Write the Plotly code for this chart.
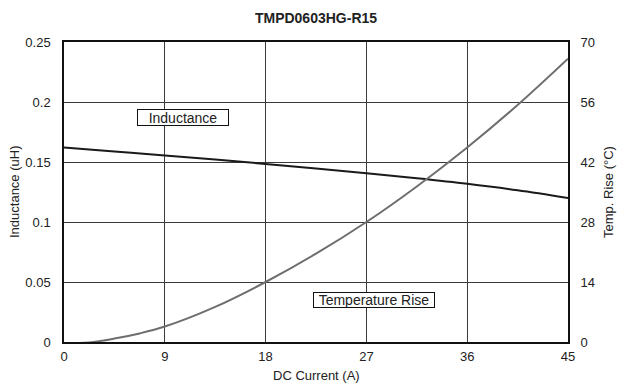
import plotly.graph_objects as go

# Data
current_ind = [0, 4.5, 9, 13.5, 18, 22.5, 27, 31.5, 36, 40.5, 45]
inductance = [0.162, 0.1587, 0.1554, 0.1520, 0.1484, 0.1446, 0.1406, 0.1364, 0.1318, 0.1264, 0.1200]

current_temp = [0, 2.25, 4.5, 6.75, 9, 13.5, 18, 22.5, 27, 31.5, 36, 40.5, 45]
temp_rise = [-0.3, -0.1, 0.8, 2.0, 3.6, 8.2, 14.0, 20.6, 28.0, 36.3, 45.4, 55.3, 66.1]

x_ticks = [0, 9, 18, 27, 36, 45]
y_ticks = [0, 0.05, 0.1, 0.15, 0.2, 0.25]
y_ticklabels = ["0", "0.05", "0.1", "0.15", "0.2", "0.25"]
y2_ticks = [0, 14, 28, 42, 56, 70]

FONT = "Liberation Sans, Arial, sans-serif"

fig = go.Figure()
fig.add_trace(go.Scatter(x=current_ind, y=inductance, mode="lines",
                         line=dict(color="#1a1a1a", width=2, shape="spline"),
                         name="Inductance", showlegend=False))
fig.add_trace(go.Scatter(x=current_temp, y=temp_rise, mode="lines",
                         line=dict(color="#6e6e6e", width=2, shape="spline"),
                         name="Temperature Rise", yaxis="y2", showlegend=False))

W, H = 619, 387
L, R, T, B = 64, 51, 42, 45
pw = W - L - R
ph = H - T - B

fig.update_layout(
    width=W, height=H,
    margin=dict(l=L, r=R, t=T, b=B, pad=0),
    paper_bgcolor="white", plot_bgcolor="white",
    font=dict(family=FONT, size=13, color="#222"),
    title=dict(text="<b>TMPD0603HG-R15</b>", x=(L + pw / 2) / W, xanchor="center",
               y=1 - 18 / H, yanchor="middle",
               font=dict(family=FONT, size=14, color="#222")),
    xaxis=dict(range=[0, 45], tickvals=x_ticks, showgrid=True, gridcolor="#3a3a3a",
               gridwidth=1, zeroline=False, showline=True, linecolor="#111",
               linewidth=1.5, mirror=True, ticks="outside", ticklen=2,
               tickcolor="rgba(0,0,0,0)", tickfont=dict(size=13, color="#222")),
    yaxis=dict(range=[0, 0.25], tickvals=y_ticks, ticktext=y_ticklabels,
               showgrid=True, gridcolor="#3a3a3a", gridwidth=1, zeroline=False,
               showline=True, linecolor="#111", linewidth=1.5, mirror=True,
               ticks="outside", ticklen=9, tickcolor="rgba(0,0,0,0)",
               tickfont=dict(size=13, color="#222")),
    yaxis2=dict(range=[0, 70], tickvals=y2_ticks, overlaying="y", side="right",
                showgrid=False, zeroline=False, showline=False,
                ticks="outside", ticklen=9, tickcolor="rgba(0,0,0,0)",
                tickfont=dict(size=13, color="#222")),
)

annotations = [
    dict(text="Inductance", x=10.6, y=0.1875, xref="x", yref="y",
         showarrow=False, bordercolor="#111", borderwidth=1, borderpad=0,
         width=90, height=15,
         bgcolor="white", font=dict(size=14, color="#222")),
    dict(text="Temperature Rise", x=27.7, y=0.035, xref="x", yref="y",
         showarrow=False, bordercolor="#111", borderwidth=1, borderpad=0,
         width=120, height=14,
         bgcolor="white", font=dict(size=14, color="#222")),
    dict(text="Inductance (uH)", x=(14 - L) / pw, y=0.5, xref="paper", yref="paper",
         textangle=-90, showarrow=False, xanchor="center", yanchor="middle",
         font=dict(size=13, color="#222")),
    dict(text="Temp. Rise (°C)", x=(608 - L) / pw, y=0.5, xref="paper", yref="paper",
         textangle=-90, showarrow=False, xanchor="center", yanchor="middle",
         font=dict(size=13, color="#222")),
    dict(text="DC Current (A)", x=0.5, y=-(375 - (T + ph)) / ph, xref="paper", yref="paper",
         showarrow=False, xanchor="center", yanchor="middle",
         font=dict(size=13, color="#222")),
]
fig.update_layout(annotations=annotations)

fig.write_html("out.html")
